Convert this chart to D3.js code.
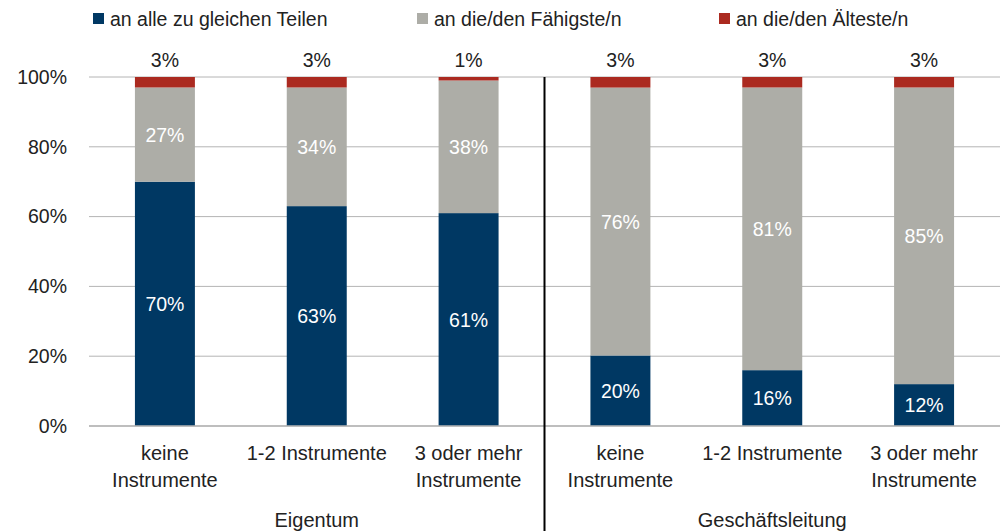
<!DOCTYPE html>
<html>
<head>
<meta charset="utf-8">
<script src="https://cdn.jsdelivr.net/npm/d3@7"></script>
<style>
  body { margin: 0; background: #fff; }
  text { font-family: "Liberation Sans", Arial, sans-serif; fill: #222; }
</style>
</head>
<body>
<svg id="chart" width="1002" height="531"></svg>
<script>
const categories = ["keine Instrumente", "1-2 Instrumente", "3 oder mehr Instrumente"];
const groups = ["Eigentum", "Geschäftsleitung"];
const seriesNames = ["an alle zu gleichen Teilen", "an die/den Fähigste/n", "an die/den Älteste/n"];
const gleich = [70, 63, 61, 20, 16, 12];
const faehig = [27, 34, 38, 76, 81, 85];
const aeltest = [3, 3, 1, 3, 3, 3];
const yTicks = [0, 20, 40, 60, 80, 100];
const colors = ["#003863", "#adada7", "#ab2a20"];

const svg = d3.select("#chart");
const margin = { top: 77, right: 2, bottom: 105, left: 89 };
const width = +svg.attr("width") - margin.left - margin.right;
const height = +svg.attr("height") - margin.top - margin.bottom;
const g = svg.append("g").attr("transform", `translate(${margin.left},${margin.top})`);

const rows = groups.flatMap((grp, gi) => categories.map((cat, ci) => {
  const i = gi * categories.length + ci;
  return { key: grp + "|" + cat, group: grp, cat: cat, s0: gleich[i], s1: faehig[i], s2: aeltest[i] };
}));

const stack = d3.stack().keys(["s0", "s1", "s2"]).offset(d3.stackOffsetExpand);
const series = stack(rows);

const x = d3.scaleBand().domain(rows.map(d => d.key)).range([0, width])
  .paddingInner(0.605).paddingOuter(0.3025);
const y = d3.scaleLinear().domain([0, 1]).range([height, 0]);

// gridlines
g.selectAll(".grid").data(yTicks).enter().append("line")
  .attr("x1", 0).attr("x2", width)
  .attr("y1", d => y(d / 100)).attr("y2", d => y(d / 100))
  .attr("stroke", "#b4b4b4").attr("stroke-width", 1);

// y axis labels
const yAxis = g.append("g").call(d3.axisLeft(y).tickValues(yTicks.map(d => d / 100)).tickFormat(d3.format(".0%")).tickSize(0).tickPadding(22));
yAxis.select(".domain").remove();
yAxis.selectAll("text").style("font-size", "19.5px").attr("fill", "#222").style("font-family", "Liberation Sans, Arial, sans-serif");

// bars
const layers = g.selectAll(".layer").data(series).enter().append("g").attr("fill", (d, i) => colors[i]);
layers.selectAll("rect").data(d => d).enter().append("rect")
  .attr("x", d => x(d.data.key))
  .attr("y", d => y(d[1]))
  .attr("width", x.bandwidth())
  .attr("height", d => y(d[0]) - y(d[1]));

// labels inside
const vals = [gleich, faehig];
[0, 1].forEach(si => {
  g.selectAll(".lbl" + si).data(series[si]).enter().append("text")
    .attr("x", d => x(d.data.key) + x.bandwidth() / 2)
    .attr("y", d => (y(d[0]) + y(d[1])) / 2 + 7)
    .attr("text-anchor", "middle")
    .style("font-size", "19.5px")
    .style("fill", "#fff")
    .text((d, i) => vals[si][i] + "%");
});
// labels above
g.selectAll(".lblTop").data(series[2]).enter().append("text")
  .attr("x", d => x(d.data.key) + x.bandwidth() / 2)
  .attr("y", y(1) - 10)
  .attr("text-anchor", "middle")
  .style("font-size", "19.5px")
  .text((d, i) => aeltest[i] + "%");

// x axis line
g.append("line").attr("x1", 0).attr("x2", width).attr("y1", height).attr("y2", height)
  .attr("stroke", "#b4b4b4").attr("stroke-width", 1.5);

// x category labels
rows.forEach(d => {
  const cx = x(d.key) + x.bandwidth() / 2;
  const parts = d.cat === "1-2 Instrumente" ? [d.cat] : d.cat === "keine Instrumente" ? ["keine", "Instrumente"] : ["3 oder mehr", "Instrumente"];
  const t = g.append("text").attr("x", cx).attr("y", height + 34).attr("text-anchor", "middle").style("font-size", "20px");
  parts.forEach((p, pi) => t.append("tspan").attr("x", cx).attr("dy", pi === 0 ? 0 : 27).text(p));
});

// group labels
const step = x.step();
groups.forEach((grp, gi) => {
  g.append("text")
    .attr("x", step * (gi * 3 + 1.5))
    .attr("y", height + 101)
    .attr("text-anchor", "middle")
    .style("font-size", "20px")
    .text(grp);
});

// separator
g.append("line").attr("x1", step * 3).attr("x2", step * 3)
  .attr("y1", 0).attr("y2", height + margin.bottom)
  .attr("stroke", "#000").attr("stroke-width", 2);

// legend
const legendX = [93, 417, 719];
const legend = svg.append("g");
seriesNames.forEach((n, i) => {
  legend.append("rect").attr("x", legendX[i]).attr("y", 13).attr("width", 11).attr("height", 11).attr("fill", colors[i]);
  legend.append("text").attr("x", legendX[i] + 17).attr("y", 26).style("font-size", "19.5px").text(n);
});
</script>
</body>
</html>
